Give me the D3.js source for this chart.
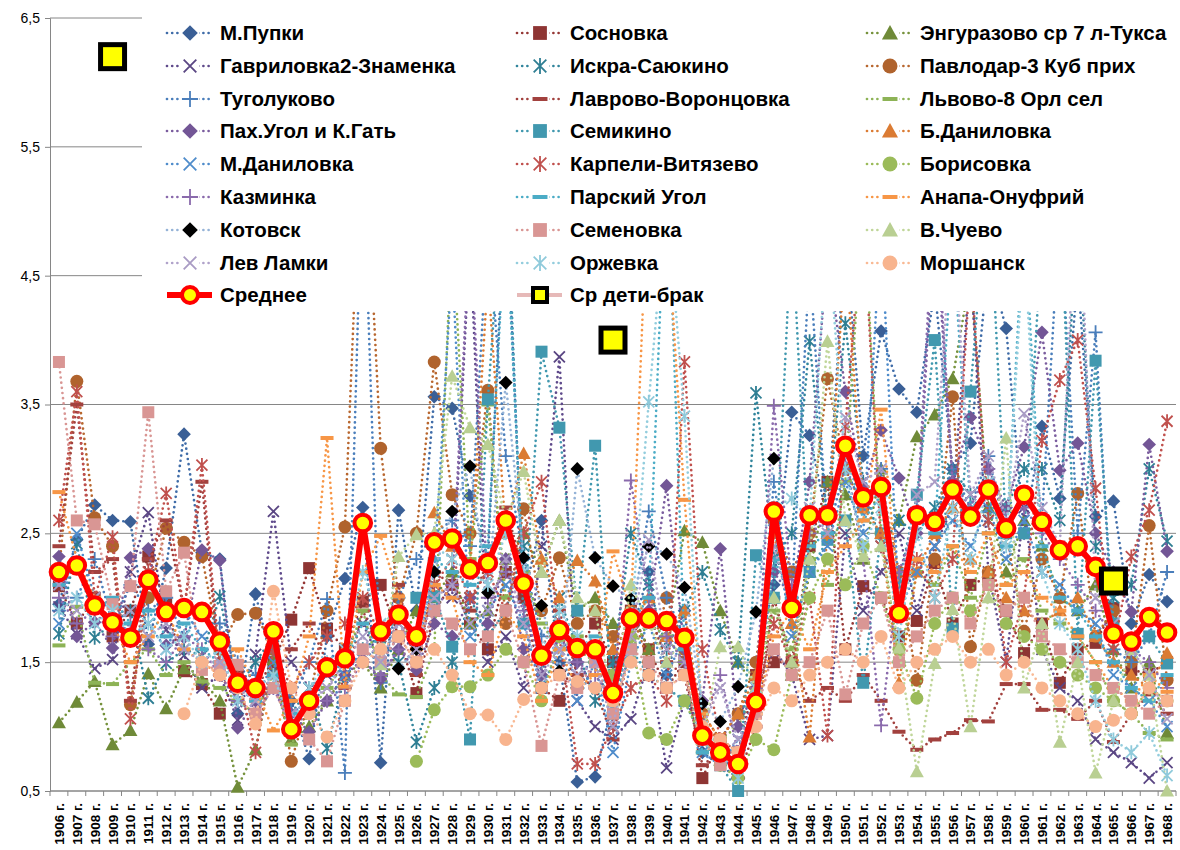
<!DOCTYPE html>
<html><head><meta charset="utf-8">
<script src="https://cdn.jsdelivr.net/npm/d3@7"></script>
<style>body{margin:0;background:#fff}svg{display:block}</style>
</head><body><svg id="c" width="1180" height="850"></svg>
<script>
const _ = null;
const years = ["1906 г.","1907 г.","1908 г.","1909 г.","1910 г.","1911 г.","1912 г.","1913 г.","1914 г.","1915 г.",
"1916 г.","1917 г.","1918 г.","1919 г.","1920 г.","1921 г.","1922 г.","1923 г.","1924 г.","1925 г.",
"1926 г.","1927 г.","1928 г.","1929 г.","1930 г.","1931 г.","1932 г.","1933 г.","1934 г.","1935 г.",
"1936 г.","1937 г.","1938 г.","1939 г.","1940 г.","1941 г.","1942 г.","1943 г.","1944 г.","1945 г.",
"1946 г.","1947 г.","1948 г.","1949 г.","1950 г.","1951 г.","1952 г.","1953 г.","1954 г.","1955 г.",
"1956 г.","1957 г.","1958 г.","1959 г.","1960 г.","1961 г.","1962 г.","1963 г.","1964 г.","1965 г.",
"1966 г.","1967 г.","1968 г."];
const yTicks = [0.5,1.5,2.5,3.5,4.5,5.5,6.5];

const mPupki = [1.95,2.45,2.72,2.60,2.59,1.64,2.23,3.27,2.35,2.30, 1.10,2.03,1.45,1.20,0.75,1.70,2.15,2.70,0.72,2.68, 1.90,3.56,3.47,2.79,2.30,5.20,2.00,2.60,1.50,0.57, 0.61,1.20,1.70,2.20,1.40,1.90,0.80,0.70,0.60,1.50, 2.10,3.44,3.26,2.60,4.80,3.10,4.07,3.62,3.44,4.40, 3.00,3.20,4.60,4.09,2.50,3.33,2.77,4.50,2.63,2.75, 1.80,2.18,1.97];
const sosnovka = [2.09,1.80,2.00,1.70,1.90,2.32,1.95,1.43,1.33,1.10, 1.40,1.30,1.50,1.83,2.23,1.76,1.60,1.97,2.10,1.70, 1.26,1.90,2.10,1.80,1.60,2.20,2.00,1.30,1.20,1.60, 1.80,1.50,1.90,1.60,1.30,1.50,0.60,0.90,0.80,1.40, 1.50,1.50,2.40,2.90,1.60,2.09,2.00,1.70,1.82,2.27, 1.80,2.10,2.16,1.90,1.57,1.80,1.34,1.60,1.65,1.92, 1.44,1.41,1.50];
const engur = [1.03,1.19,1.35,0.86,0.97,1.41,1.14,1.45,1.36,1.20, 0.53,0.82,1.52,0.90,1.00,1.20,1.40,1.50,1.30,1.60, 1.90,2.00,2.20,1.80,1.90,2.30,2.50,2.20,2.60,1.90, 2.00,1.80,1.90,1.60,1.70,2.52,2.43,1.90,1.50,1.30, 2.00,1.40,2.20,2.90,2.80,2.30,3.00,2.60,3.25,3.42, 3.70,4.50,2.70,2.20,2.60,2.40,2.00,1.90,2.10,1.60, 1.30,1.50,0.95];
const gavr = [1.93,1.72,1.45,1.52,2.20,2.66,1.75,1.55,1.30,1.40, 1.05,1.56,2.67,1.50,1.30,1.40,1.60,1.80,1.50,1.70, 1.60,2.10,2.00,4.80,1.50,1.70,1.30,2.40,3.87,1.20, 1.00,0.90,1.06,1.50,0.68,1.20,1.00,0.90,1.10,1.30, 1.60,1.40,0.90,0.93,2.50,1.90,2.20,2.50,1.90,2.40, 2.70,4.60,2.20,1.50,2.70,1.60,1.30,1.20,0.90,0.80, 0.72,0.60,0.72];
const iskra = [1.72,2.42,1.69,1.80,1.90,1.22,1.49,1.60,1.55,2.01, 1.30,1.50,1.70,1.10,1.30,0.83,1.40,1.60,1.70,1.50, 0.88,1.30,1.50,2.00,1.70,1.90,2.40,1.40,2.00,1.60, 1.20,1.50,2.50,2.10,1.60,1.90,2.20,1.75,1.50,3.59, 2.30,2.50,3.99,2.60,4.13,2.90,2.40,2.60,2.50,2.70, 3.00,2.80,2.60,2.70,3.00,3.00,2.60,5.00,2.40,2.00, 2.10,3.00,2.44];
const pavlodar = [2.20,3.68,2.62,2.40,1.17,2.00,2.54,2.43,2.32,1.60, 1.87,1.88,1.60,0.73,1.20,1.90,2.55,5.90,3.16,2.00, 2.50,3.83,2.80,2.50,3.61,1.80,2.69,1.90,2.31,1.80, 1.90,1.70,1.90,1.50,2.00,1.60,1.10,0.90,1.10,1.50, 2.60,2.20,2.50,3.70,3.00,2.70,2.90,2.20,1.36,2.30, 3.56,1.62,2.20,2.50,1.74,2.30,2.00,2.81,1.70,1.90, 1.50,2.56,1.36];
const tugol = [1.90,2.00,2.30,1.80,2.10,1.90,2.00,1.70,1.90,1.80, 1.50,1.40,1.60,1.20,1.50,1.99,0.64,5.50,1.34,2.00, 2.30,2.50,2.60,2.40,4.90,3.10,2.30,1.70,1.80,1.30, 1.60,1.00,1.80,2.67,2.00,1.70,0.90,0.80,0.60,1.20, 2.90,2.00,4.60,2.50,3.00,2.70,3.00,1.90,2.70,2.60, 3.00,2.70,3.10,2.50,2.80,2.60,5.00,2.50,4.06,1.60, 1.50,1.70,2.20];
const lavr = [2.40,3.50,2.20,2.30,1.20,2.30,2.60,1.90,2.90,1.40, 1.20,1.10,1.40,1.60,1.80,1.50,1.30,1.90,1.60,2.10, 1.40,2.20,2.10,1.90,2.30,2.70,2.20,1.60,1.90,1.40, 1.30,0.90,1.70,1.90,1.50,1.40,0.70,0.80,0.60,1.00, 2.00,1.50,1.20,1.30,1.20,1.40,1.20,0.96,0.82,0.90, 0.95,1.05,1.04,1.33,1.33,1.13,1.13,1.06,1.20,0.88, 1.10,1.25,1.10];
const lvovo = [1.63,1.93,1.34,1.33,1.50,1.60,1.40,1.50,1.35,1.30, 1.20,1.10,1.41,0.86,1.10,1.30,1.50,1.90,1.40,1.25, 1.23,1.60,4.90,2.30,3.50,2.00,2.20,1.80,1.60,1.70, 1.50,1.30,1.60,1.80,1.70,1.50,0.80,0.90,1.00,1.30, 1.90,1.60,2.30,2.10,2.90,5.10,2.50,1.50,2.20,2.10, 2.40,2.00,2.50,2.10,2.30,1.90,1.80,1.70,1.50,1.20, 1.10,0.95,0.90];
const pah = [2.32,1.70,1.81,1.61,2.31,2.38,1.63,1.69,2.37,2.29, 0.99,1.20,1.30,1.10,0.96,1.20,1.40,1.52,1.37,1.60, 1.44,1.80,1.70,2.00,1.80,2.30,1.60,1.40,1.70,1.50, 1.30,1.40,1.70,1.90,2.87,1.60,1.20,2.38,1.00,1.30, 2.20,2.00,2.90,4.70,3.60,2.86,3.30,2.93,2.50,5.00, 2.90,3.40,3.00,2.70,3.17,4.06,2.99,3.20,2.50,2.20, 1.89,3.19,2.36];
const semikino = [_,_,_,_,_,_,_,_,_,_, _,_,_,_,_,_,_,_,_,_, 2.00,2.01,1.62,0.90,3.54,5.50,1.80,3.91,3.32,1.90, 3.18,1.10,1.60,1.40,1.30,1.20,0.90,0.70,0.50,2.33, 2.00,4.90,2.20,2.45,2.60,1.34,2.50,2.10,2.80,4.00, 1.76,3.60,5.30,2.50,2.50,4.80,5.20,1.72,3.84,1.80, 1.60,1.70,1.49];
const bdan = [_,_,_,_,_,_,_,_,_,_, _,_,_,_,_,_,_,_,_,_, _,2.66,2.40,2.20,4.50,2.50,3.12,2.30,2.00,2.29, 2.13,1.60,1.80,2.00,1.70,1.90,1.00,0.90,1.10,1.40, 2.50,1.80,0.92,2.50,4.70,2.70,2.50,1.34,2.20,2.50, 2.70,2.30,2.20,2.00,1.90,1.80,1.90,2.00,1.70,1.50, 1.40,1.30,1.57];
const mdan = [1.80,2.50,2.00,1.90,1.70,1.80,1.60,1.90,1.70,1.60, 1.30,1.20,1.50,1.10,1.20,1.50,1.40,1.60,1.50,1.80, 1.60,2.20,4.60,1.70,1.90,2.10,1.80,1.30,1.60,1.20, 1.50,0.80,1.50,1.80,1.40,1.70,0.80,0.70,0.90,1.20, 2.60,1.70,2.20,2.40,2.90,2.50,4.90,1.90,2.20,2.40, 2.60,2.40,2.70,2.30,2.60,2.20,2.10,1.90,1.80,1.40, 1.30,1.20,1.00];
const karp = [2.60,3.60,2.00,2.47,1.06,2.20,2.81,1.90,3.03,1.50, 1.40,0.80,1.60,1.30,1.50,1.70,1.80,2.00,1.70,1.90, 1.50,2.10,2.30,2.00,2.20,1.90,2.50,2.90,1.70,0.71, 0.71,1.00,1.30,1.40,1.20,3.83,1.60,0.90,0.80,1.20, 1.80,1.50,2.00,0.93,3.33,5.00,2.40,2.00,2.30,2.00, 2.30,4.60,2.60,1.50,2.00,3.22,3.69,4.00,2.85,1.60, 2.32,2.68,3.37];
const boris = [_,_,_,_,_,_,_,_,_,_, _,_,_,_,_,_,_,_,_,_, 0.73,1.13,1.31,1.31,1.40,1.60,1.50,1.20,1.70,1.60, 1.50,1.40,1.70,0.95,0.90,1.20,0.90,0.70,0.60,0.90, 0.82,1.40,2.00,2.30,2.10,2.40,2.00,1.60,1.22,1.80, 2.00,1.90,2.10,1.80,1.70,1.60,1.50,1.40,1.30,1.20, 1.10,1.30,1.20];
const kazm = [2.00,1.80,1.90,1.70,1.80,1.60,1.50,1.70,1.60,1.40, 1.20,1.10,1.30,1.00,1.10,1.20,1.30,1.50,1.40,1.60, 1.50,1.90,2.10,4.90,2.00,2.20,1.90,1.50,1.80,1.50, 1.40,1.20,2.91,2.00,1.70,1.50,1.00,1.40,0.80,1.30, 3.49,2.10,2.50,2.60,3.10,2.30,1.01,2.20,2.60,5.20, 2.90,2.70,3.00,2.60,2.70,2.50,2.30,2.10,1.90,1.70, 1.60,1.50,1.30];
const parsk = [2.10,2.30,1.90,2.00,1.80,1.90,1.70,1.80,1.60,1.50, 1.30,1.20,1.40,1.10,1.20,1.40,1.50,1.80,1.60,1.90, 1.70,2.30,2.20,2.10,2.40,5.00,2.10,1.50,1.80,1.60, 1.70,1.10,1.80,2.00,5.50,1.60,0.80,0.90,0.70,1.10, 2.30,2.00,2.40,2.50,3.20,2.60,2.80,2.00,2.60,2.50, 4.80,2.70,2.80,2.40,5.00,2.40,2.00,1.90,1.70,1.50, 1.30,1.20,1.40];
const anapa = [2.82,2.30,2.00,1.80,1.50,1.70,1.90,1.60,1.50,1.40, 1.60,1.30,0.97,1.20,1.70,3.24,1.31,2.20,2.48,2.01, 1.60,2.10,2.00,1.50,1.40,1.90,1.70,1.20,1.60,1.30, 1.40,2.36,1.90,5.40,5.00,2.76,1.10,0.90,0.80,1.10, 1.70,1.90,1.60,2.20,2.40,2.60,3.46,2.00,2.30,2.20, 2.40,2.20,2.50,2.10,2.20,2.00,1.90,1.70,1.50,1.30, 1.20,1.40,1.27];
const kotovsk = [_,_,_,_,_,_,_,_,_,_, _,_,_,_,_,_,_,_,_,1.45, 1.60,2.20,2.67,3.02,2.04,3.67,2.31,1.94,1.43,3.00, 2.31,2.09,1.99,2.40,2.34,2.08,1.18,1.04,1.31,1.89, 3.08,_,_,_,_,_,_,_,_,_, _,_,_,_,_,_,_,_,_,_, _,_,_];
const semen = [3.83,2.60,2.57,1.95,2.09,3.44,2.05,2.35,1.44,1.47, 1.48,1.10,1.30,1.00,0.90,0.73,1.20,1.60,1.50,1.70, 1.50,1.90,1.80,1.60,1.70,1.90,1.50,0.85,1.40,1.30, 1.50,1.10,1.60,1.50,1.30,1.40,0.90,0.70,0.80,1.10, 1.60,1.40,1.50,1.90,1.25,1.80,2.00,1.50,1.70,1.90, 2.00,1.80,2.10,1.90,2.00,1.70,1.60,1.50,1.40,1.30, 1.20,1.10,1.20];
const vchuevo = [_,_,_,_,_,_,_,_,_,_, _,_,_,_,_,_,_,_,1.48,2.32, 2.49,2.50,3.72,3.32,3.19,2.60,2.98,2.20,2.60,2.00, 1.90,1.20,2.10,1.80,1.50,1.70,0.90,1.62,1.62,1.30, 2.00,1.50,2.30,3.99,2.60,2.32,2.40,1.61,0.65,1.49, 1.91,1.00,2.00,3.24,1.30,1.80,0.88,1.50,0.64,1.20, 1.60,1.40,0.50];
const levl = [2.10,1.90,2.00,1.80,1.90,1.70,1.80,1.60,1.50,1.50, 1.30,1.20,1.40,1.10,1.20,1.30,1.50,1.70,1.50,1.80, 1.60,2.00,2.10,1.80,1.90,2.30,1.80,1.40,1.60,1.40, 1.50,1.00,1.70,2.45,1.60,1.50,1.00,1.30,0.90,1.20, 2.40,1.90,2.70,2.50,3.40,2.90,3.00,2.00,2.80,2.90, 5.00,2.80,3.10,2.60,3.43,2.70,2.40,5.50,2.00,1.80, 1.60,1.40,1.06];
const orzh = [1.90,2.00,1.80,1.90,1.70,1.80,1.60,1.70,1.50,1.60, 1.20,1.30,1.40,1.00,1.30,1.50,1.60,2.20,1.80,1.90, 1.70,2.40,2.30,2.20,2.10,2.50,2.20,1.60,1.90,1.70, 1.60,1.30,1.80,3.52,5.10,3.41,1.00,0.80,0.60,1.30, 2.70,2.77,2.60,4.90,3.00,2.40,2.70,1.70,2.50,2.00, 2.70,2.30,2.90,2.40,4.80,2.20,1.80,1.60,1.20,0.90, 0.80,0.95,0.62];
const morsh = [_,_,_,_,_,_,_,1.10,1.50,1.40, 1.30,1.02,2.05,1.30,1.10,0.92,1.20,1.50,1.60,1.70, 1.50,1.60,1.40,1.10,1.09,0.90,1.21,1.30,1.40,1.35, 1.30,1.20,1.50,1.40,1.30,1.40,1.00,0.90,0.80,1.00, 1.30,1.20,1.40,1.50,1.60,1.50,1.70,1.30,1.50,1.60, 1.70,1.50,1.60,1.40,1.50,1.30,1.20,1.10,1.00,1.05, 1.10,1.30,1.20];
const avg = [2.20,2.25,1.94,1.81,1.69,2.14,1.89,1.92,1.89,1.66, 1.34,1.30,1.74,0.98,1.20,1.46,1.53,2.58,1.74,1.87, 1.70,2.43,2.46,2.22,2.27,2.60,2.11,1.55,1.75,1.61, 1.60,1.26,1.84,1.84,1.82,1.69,0.93,0.80,0.71,1.19, 2.67,1.92,2.64,2.64,3.18,2.78,2.86,1.88,2.64,2.59, 2.84,2.63,2.84,2.54,2.80,2.59,2.37,2.40,2.24,1.72, 1.66,1.85,1.73];
const childMar = [_,_,_,6.20,_,_,_,_,_,_, _,_,_,_,_,_,_,_,_,_, _,_,_,_,_,_,_,_,_,_, _,4.00,_,_,_,_,_,_,_,_, _,_,_,_,_,_,_,_,_,_, _,_,_,_,_,_,_,_,_,2.13, _,_,_];

const seriesNames = ["М.Пупки","Сосновка","Энгуразово ср 7 л-Тукса","Гавриловка2-Знаменка","Искра-Саюкино","Павлодар-3 Куб прих",
"Туголуково","Лаврово-Воронцовка","Львово-8 Орл сел","Пах.Угол и К.Гать","Семикино","Б.Даниловка",
"М.Даниловка","Карпели-Витязево","Борисовка","Казминка","Парский Угол","Анапа-Онуфрий",
"Котовск","Семеновка","В.Чуево","Лев Ламки","Оржевка","Моршанск"];
const seriesValues = [mPupki,sosnovka,engur,gavr,iskra,pavlodar,tugol,lavr,lvovo,pah,semikino,bdan,mdan,karp,boris,kazm,parsk,anapa,kotovsk,semen,vchuevo,levl,orzh,morsh];
const lineColors = ["#3F6CA8","#953735","#76923C","#5F4A8B","#31859C","#B8672F","#4A7EBB","#A2413E","#8DB356","#7A5C9E","#4198AF","#DB7B33","#4F8CCB","#C0504D","#9BBB59","#8A6AAC","#4BACC6","#F79646","#95B3D7","#D99694","#C0D69A","#B0A2CA","#93CDDD","#F9B994"];
const markerColors = ["#3A5F96","#8E3533","#6F8A38","#5A4683","#2E7E93","#B0632D","#4A7EBB","#A2413E","#8DB356","#735696","#4198AF","#DB7B33","#4F8CCB","#C0504D","#9BBB59","#8A6AAC","#4BACC6","#F79646","#000000","#D99694","#B9CF92","#A99BC4","#8FCADB","#F8B48E"];
const markerTypes = ["diamond","square","triangle","x","asterisk","circle","plus","dash","dash","diamond","square","triangle","x","asterisk","circle","plus","dash","dash","diamond","square","triangle","x","asterisk","circle"];

const svg = d3.select("#c");
const L = 50, R = 1176, T = 18, B = 791;
const x = d3.scaleBand().domain(years).range([L, R]).padding(0);
const bw = x.bandwidth();
const cx = i => x(years[i]) + bw / 2;
const y = d3.scaleLinear().domain([0.5, 6.5]).range([B, T]);
const grid = "#868686";

svg.append("g").selectAll("line").data(yTicks).join("line")
  .attr("x1", L).attr("x2", R).attr("y1", d => y(d)).attr("y2", d => y(d))
  .attr("stroke", grid).attr("stroke-width", 1);

const ya = svg.append("g").attr("transform", `translate(${L},0)`)
  .call(d3.axisLeft(y).tickValues(yTicks).tickSize(5).tickPadding(5).tickFormat(d => d.toFixed(1).replace(".", ",")));
ya.select(".domain").attr("stroke", grid);
ya.selectAll(".tick line").attr("stroke", grid);
ya.selectAll("text").attr("font-family", "Liberation Sans, Arial, sans-serif").attr("font-size", 14).attr("fill", "#000");

svg.append("line").attr("x1", L).attr("x2", R).attr("y1", B).attr("y2", B).attr("stroke", grid);
svg.append("g").selectAll("line").data(d3.range(years.length + 1)).join("line")
  .attr("x1", i => L + i * bw).attr("x2", i => L + i * bw).attr("y1", B).attr("y2", B + 5)
  .attr("stroke", grid);
svg.append("g").selectAll("text").data(years).join("text")
  .attr("transform", (d, i) => `translate(${cx(i) + 5},${B + 12}) rotate(-90)`)
  .attr("text-anchor", "end")
  .attr("font-family", "Liberation Sans, Arial, sans-serif").attr("font-weight", "bold").attr("font-size", 13.5)
  .text(d => d);

function marker(g, type, px, py, color, k) {
  const f = k || 1;
  if (type === "diamond") { const s = 6.8 * f; g.append("path").attr("d", `M${px},${py - s}L${px + s},${py}L${px},${py + s}L${px - s},${py}Z`).attr("fill", color); }
  else if (type === "square") { const s = 6 * f; g.append("rect").attr("x", px - s).attr("y", py - s).attr("width", 2 * s).attr("height", 2 * s).attr("fill", color); }
  else if (type === "triangle") { const s = 7 * f; g.append("path").attr("d", `M${px},${py - s}L${px + s},${py + s * 0.8}L${px - s},${py + s * 0.8}Z`).attr("fill", color); }
  else if (type === "circle") g.append("circle").attr("cx", px).attr("cy", py).attr("r", 6.5 * f).attr("fill", color);
  else if (type === "dash") g.append("rect").attr("x", px - 6.5 * f).attr("y", py - 2).attr("width", 13 * f).attr("height", 4).attr("fill", color);
  else {
    const p = d3.path(), a = 5.5 * f, b = 7 * f;
    if (type === "x" || type === "asterisk") { p.moveTo(px - a, py - a); p.lineTo(px + a, py + a); p.moveTo(px + a, py - a); p.lineTo(px - a, py + a); }
    if (type === "asterisk") { p.moveTo(px, py - b); p.lineTo(px, py + b); }
    if (type === "plus") { p.moveTo(px - b, py); p.lineTo(px + b, py); p.moveTo(px, py - b); p.lineTo(px, py + b); }
    g.append("path").attr("d", p.toString()).attr("stroke", color).attr("stroke-width", 1.8).attr("fill", "none");
  }
}

const line = d3.line().defined(d => d.v != null).x(d => cx(d.i)).y(d => y(d.v));
const plot = svg.append("g");
seriesValues.forEach((vals, k) => {
  const g = plot.append("g");
  const pts = vals.map((v, i) => ({ v, i }));
  g.append("path").attr("d", line(pts)).attr("fill", "none").attr("stroke", lineColors[k])
    .attr("stroke-width", 2.7).attr("stroke-linecap", "round").attr("stroke-dasharray", "0 5.2");
  pts.filter(d => d.v != null).forEach(d => marker(g, markerTypes[k], cx(d.i), y(d.v), markerColors[k]));
});

const ptsA = avg.map((v, i) => ({ v, i }));
plot.append("path").attr("d", line(ptsA)).attr("fill", "none").attr("stroke", "#FF0000").attr("stroke-width", 6).attr("stroke-linejoin", "round");
plot.append("g").selectAll("circle").data(ptsA).join("circle")
  .attr("cx", d => cx(d.i)).attr("cy", d => y(d.v)).attr("r", 8.3).attr("fill", "#FFFF00").attr("stroke", "#FF0000").attr("stroke-width", 4);

svg.append("rect").attr("x", 142).attr("y", 0).attr("width", 1040).attr("height", 311).attr("fill", "#fff");

const ptsC = childMar.map((v, i) => ({ v, i })).filter(d => d.v != null);
svg.append("g").selectAll("rect").data(ptsC).join("rect")
  .attr("x", d => cx(d.i) - 12).attr("y", d => y(d.v) - 12).attr("width", 24).attr("height", 24)
  .attr("fill", "#FFFF00").attr("stroke", "#000").attr("stroke-width", 5);

const colX = [167, 517, 867];
const rowY = [33, 66, 99, 131, 164, 197, 230, 263, 295];
const lg = svg.append("g").attr("font-family", "Liberation Sans, Arial, sans-serif").attr("font-weight", "bold").attr("font-size", 20.5);
seriesNames.forEach((name, k) => {
  const c = k % 3, r = Math.floor(k / 3);
  const x0 = colX[c], yy = rowY[r];
  lg.append("line").attr("x1", x0).attr("x2", x0 + 45).attr("y1", yy).attr("y2", yy)
    .attr("stroke", lineColors[k]).attr("stroke-width", 2.7).attr("stroke-linecap", "round").attr("stroke-dasharray", "0 5.2");
  const mg = lg.append("g");
  mg.append("rect").attr("x", x0 + 14).attr("y", yy - 8).attr("width", 18).attr("height", 16).attr("fill", "#fff");
  marker(mg, markerTypes[k], x0 + 23, yy, markerColors[k], 1.15);
  lg.append("text").attr("x", x0 + 53).attr("y", yy).attr("dy", "0.36em").text(name);
});
{
  const x0 = colX[0], yy = rowY[8];
  lg.append("line").attr("x1", x0).attr("x2", x0 + 45).attr("y1", yy).attr("y2", yy).attr("stroke", "#FF0000").attr("stroke-width", 6);
  lg.append("circle").attr("cx", x0 + 23).attr("cy", yy).attr("r", 8).attr("fill", "#FFFF00").attr("stroke", "#FF0000").attr("stroke-width", 4);
  lg.append("text").attr("x", x0 + 53).attr("y", yy).attr("dy", "0.36em").text("Среднее");
  const x1 = colX[1];
  lg.append("line").attr("x1", x1).attr("x2", x1 + 45).attr("y1", yy).attr("y2", yy).attr("stroke", "#E6B9B8").attr("stroke-width", 4);
  lg.append("rect").attr("x", x1 + 16).attr("y", yy - 7).attr("width", 14).attr("height", 14).attr("fill", "#FFFF00").attr("stroke", "#000").attr("stroke-width", 4);
  lg.append("text").attr("x", x1 + 53).attr("y", yy).attr("dy", "0.36em").text("Ср дети-брак");
}
</script></body></html>
